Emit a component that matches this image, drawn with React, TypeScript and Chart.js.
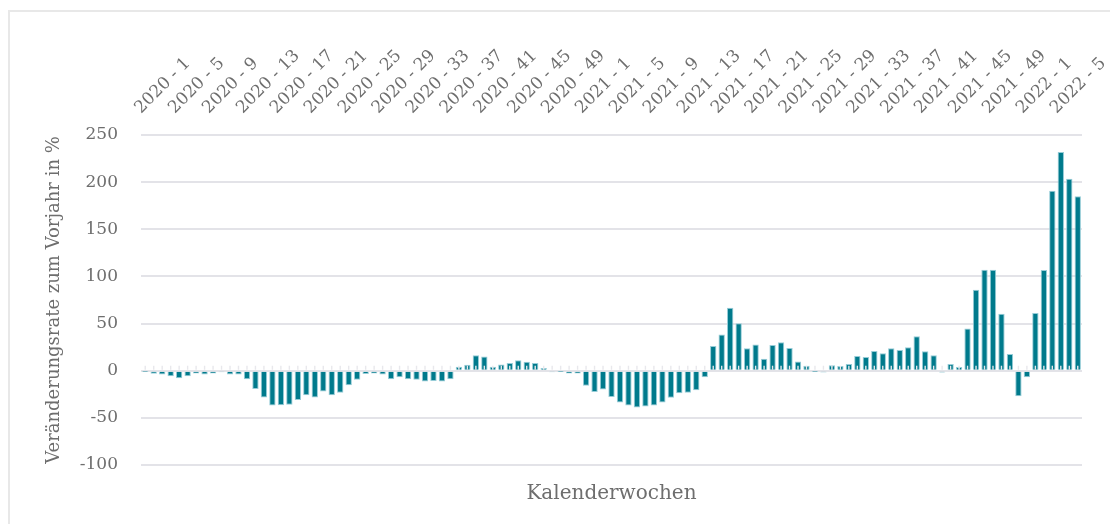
import React, { useEffect, useRef } from "react";
import { Chart, registerables } from "chart.js";

Chart.register(...registerables);

const years = [2020, 2021, 2022];
const weeksPerYear = [52, 52, 7];

const categories: string[] = [];
years.forEach((y, i) => {
  for (let w = 1; w <= weeksPerYear[i]; w++) categories.push(`${y} - ${w}`);
});

const values2020 = [
  -0.3, -3.2, -4, -6, -8, -6, -3, -4, -3, -1.5, -4, -4, -9, -19.5, -28.5, -37,
  -36.5, -36, -31, -26, -28.5, -22, -26, -23.5, -15.5, -9.5, -3.5, -3, -4, -9,
  -7, -9, -9.5, -11.5, -11, -11.5, -9, 4.3, 6.4, 16.3, 15, 4.3, 6.7, 8.2, 11,
  9.6, 8.2, 2.8, -1.5, -0.3, -3, -3,
];
const values2021 = [
  -16, -22.5, -20, -28, -33.7, -36.9, -39, -38, -36.9, -33.7, -28.7, -24, -23.4,
  -20.6, -7, 26.2, 38.3, 66.7, 50.4, 23.8, 27.7, 12.8, 27.3, 30.1, 24.1, 9.9,
  5.3, -0.3, -1.8, 5.7, 5, 7, 15.6, 14.5, 20.9, 18.4, 23.8, 22, 24.8, 36.5,
  20.6, 16.3, -2, 7, 3.9, 44.7, 85.8, 107, 107, 60.3, 17.7, -27,
];
const values2022 = [-7, 61.3, 106.7, 191, 232, 203.5, 185];

const seriesValues = [...values2020, ...values2021, ...values2022];

const yMin = -100;
const yMax = 250;
const yStep = 50;

const FONT = "'DejaVu Serif', serif";
const TEXT = "#6e6e6e";

const zeroTicks = {
  id: "zeroTicks",
  afterDatasetsDraw(chart: any) {
    const xs = chart.scales.x;
    const ys = chart.scales.y;
    const ctx = chart.ctx;
    const y0 = ys.getPixelForValue(0);
    ctx.save();
    ctx.strokeStyle = "#e8e8ec";
    ctx.lineWidth = 1.4;
    for (let i = 0; i < categories.length; i++) {
      const x = xs.getPixelForValue(i);
      ctx.beginPath();
      ctx.moveTo(x, y0 - 1);
      ctx.lineTo(x, y0 - 5);
      ctx.stroke();
    }
    ctx.restore();
  },
};

export default function App() {
  const ref = useRef<HTMLCanvasElement | null>(null);
  useEffect(() => {
    if (!ref.current) return;
    const chart = new Chart(ref.current, {
      type: "bar",
      data: {
        labels: categories,
        datasets: [
          {
            label: "Veränderungsrate",
            data: seriesValues,
            backgroundColor: "#007a8c",
            borderColor: "#96ccd7",
            borderWidth: 1,
            barPercentage: 0.75,
            categoryPercentage: 1,
          },
        ],
      },
      options: {
        animation: false,
        responsive: false,
        maintainAspectRatio: false,
        layout: { padding: { left: 0, right: 28, top: 0, bottom: 0 } },
        plugins: {
          legend: { display: false },
          tooltip: { enabled: false },
        },
        scales: {
          x: {
            position: "top",
            grid: { display: false, drawTicks: false },
            border: { display: false },
            ticks: {
              autoSkip: false,
              minRotation: 45,
              maxRotation: 45,
              padding: 17,
              labelOffset: 7,
              color: TEXT,
              font: { family: FONT, size: 17 },
              callback: (_v: any, i: number) => (i % 4 === 0 ? categories[i] : ""),
            },
            afterFit: (s: any) => {
              s.height = 123;
            },
          },
          x2: {
            type: "category",
            labels: categories,
            position: "bottom",
            grid: { display: false, drawTicks: false },
            border: { display: false },
            ticks: { display: false },
            title: {
              display: true,
              text: "Kalenderwochen",
              color: TEXT,
              font: { family: FONT, size: 20 },
              padding: { top: 0, bottom: 18 },
            },
            afterFit: (s: any) => {
              s.height = 59;
            },
          },
          y: {
            min: yMin,
            max: yMax,
            grid: { color: "#e3e3e8", lineWidth: 2, drawTicks: false },
            border: { display: false },
            ticks: {
              stepSize: yStep,
              padding: 23,
              color: TEXT,
              font: { family: FONT, size: 17 },
            },
            title: {
              display: true,
              text: "Veränderungsrate zum Vorjahr in %",
              color: TEXT,
              font: { family: FONT, size: 18 },
              padding: { top: 34, bottom: 0 },
            },
            afterFit: (s: any) => {
              s.width = 131;
            },
          },
        },
      },
      plugins: [zeroTicks],
    });
    return () => chart.destroy();
  }, []);

  return (
    <div
      style={{
        position: "absolute",
        top: 10,
        left: 8,
        width: 1102,
        height: 514,
        boxSizing: "border-box",
        borderTop: "2px solid #e8e8e8",
        borderLeft: "2px solid #e8e8e8",
      }}
    >
      <canvas ref={ref} width={1100} height={512} style={{ display: "block", width: 1100, height: 512 }} />
    </div>
  );
}
